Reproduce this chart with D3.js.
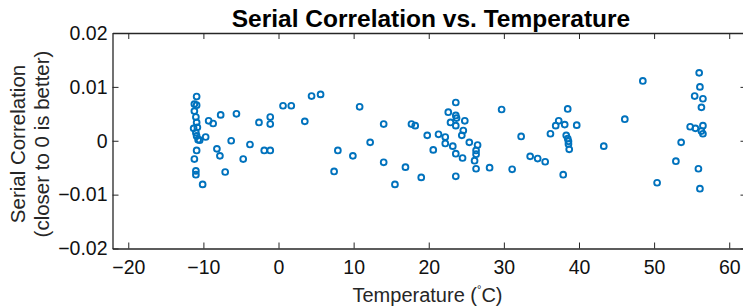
<!DOCTYPE html>
<html>
<head>
<meta charset="utf-8">
<script src="https://cdn.jsdelivr.net/npm/d3@7"></script>
<style>
  body { margin: 0; background: #fff; }
  text { font-family: "Liberation Sans", Arial, Helvetica, sans-serif; }
</style>
</head>
<body>
<div id="chart"></div>
<script>
// temperature (C) of each run
var temps = [
  -10.9, -11.2, -10.9, -11.2, -11.0, -10.9, -11.3, -10.8, -11.0, -10.9, -10.7, -10.5, -9.7,
  -10.9, -11.2, -11.0, -11.0, -10.1,
  -9.3, -8.7, -7.7, -5.6, -8.2, -7.8, -6.3, -7.1, -4.7, -3.8, -2.6, -1.1, -1.1, -1.9, -1.1,
  0.6, 1.7, 3.5, 4.4, 5.6, 10.8, 7.4, 7.9, 9.9, 12.2, 14.0, 14.0, 15.5, 16.9, 17.7, 18.2,
  19.0, 19.8, 20.6, 21.3, 22.2, 22.2, 22.6, 23.6, 23.6, 23.7, 22.9, 23.6, 24.8, 24.6, 24.4,
  25.4, 23.2, 23.6, 24.5, 23.6,
  26.5, 26.3, 26.3, 26.1, 26.3, 28.1, 29.7, 31.1, 32.3, 33.5, 34.5, 35.5, 36.2, 36.9, 37.3,
  38.1, 38.5, 39.7, 38.3, 38.5, 38.6, 38.6, 38.7, 37.9, 43.3, 46.1, 48.5, 50.4, 52.9, 53.6,
  54.8, 55.5, 56.5, 56.3, 56.5, 56.0, 56.1, 55.4, 56.5, 56.3, 55.9, 56.1
];
// serial correlation of each run
var corrs = [
  0.0082, 0.0068, 0.0066, 0.0055, 0.0044, 0.0034, 0.0023, 0.0025, 0.0015, 0.0009, 0.0002, 0.0001, 0.0007,
  -0.0018, -0.0034, -0.0056, -0.0063, -0.0081,
  0.0037, 0.0032, 0.0048, 0.0050, -0.0015, -0.0028, 0.0000, -0.0058, -0.0034, -0.0007, 0.0034, 0.0044, 0.0031, -0.0018, -0.0018,
  0.0065, 0.0065, 0.0036, 0.0083, 0.0086, 0.0063, -0.0057, -0.0018, -0.0028, -0.0003, 0.0031, -0.0040, -0.0081, -0.0049, 0.0031, 0.0028,
  -0.0068, 0.0010, -0.0017, 0.0012, 0.0007, -0.0005, 0.0053, 0.0071, 0.0047, 0.0042, 0.0034, 0.0028, 0.0037, 0.0019, 0.0010,
  -0.0003, -0.0010, -0.0024, -0.0032, -0.0066,
  -0.0008, -0.0018, -0.0025, -0.0037, -0.0052, -0.0050, 0.0058, -0.0053, 0.0008, -0.0029, -0.0033, -0.0039, 0.0013, 0.0028, 0.0037,
  0.0030, 0.0059, 0.0029, 0.0010, 0.0004, -0.0001, -0.0006, -0.0016, -0.0063, -0.0010, 0.0040, 0.0111, -0.0078, -0.0038, -0.0003,
  0.0026, 0.0023, 0.0028, 0.0018, 0.0013, 0.0126, 0.0100, 0.0083, 0.0078, 0.0062, -0.0052, -0.0089
];
var xTicks = [-20, -10, 0, 10, 20, 30, 40, 50, 60];
var yTicks = [-0.02, -0.01, 0, 0.01, 0.02];
var yTickLabels = ["\u22120.02", "\u22120.01", "0", "0.01", "0.02"];

var W = 743, H = 306;
var pL = 112.5, pR = 746.5, pT = 33, pB = 248.5;
var ink = "#262626", blue = "#0072BD";

var svg = d3.select("#chart").append("svg")
  .attr("width", W).attr("height", H);

var x = d3.scaleLinear().domain([-22.1, 62.3]).range([pL, pR]);
var y = d3.scaleLinear().domain([-0.02, 0.02]).range([pB, pT]);

function fmtX(d) { return d < 0 ? "\u2212" + (-d) : String(d); }

// axes, ticks pointing inward like matlab
var xb = svg.append("g").attr("transform", "translate(0," + pB + ")")
  .call(d3.axisBottom(x).tickValues(xTicks).tickSize(-6).tickPadding(12).tickSizeOuter(0).tickFormat(fmtX));
var xt = svg.append("g").attr("transform", "translate(0," + pT + ")")
  .call(d3.axisTop(x).tickValues(xTicks).tickSize(-6).tickSizeOuter(0).tickFormat(""));
var yl = svg.append("g").attr("transform", "translate(" + pL + ",0)")
  .call(d3.axisLeft(y).tickValues(yTicks).tickSize(-6).tickPadding(5).tickSizeOuter(0)
    .tickFormat(function(d, i) { return yTickLabels[i]; }));
var yr = svg.append("g").attr("transform", "translate(" + pR + ",0)")
  .call(d3.axisRight(y).tickValues(yTicks).tickSize(-6).tickSizeOuter(0).tickFormat(""));

[xb, xt, yl, yr].forEach(function(g) {
  g.select(".domain").attr("stroke", ink).attr("stroke-width", 1.3);
  g.selectAll(".tick line").attr("stroke", ink).attr("stroke-width", 1);
  g.selectAll(".tick text").attr("fill", "#111").style("font-size", "19.5px")
    .style("font-family", "'Liberation Sans', Arial, sans-serif");
});
xb.selectAll(".tick text").attr("dy", "0.71em");

// points
svg.append("g").selectAll("circle")
  .data(temps.map(function(t, i) { return [t, corrs[i]]; }))
  .join("circle")
    .attr("cx", function(d) { return x(d[0]); })
    .attr("cy", function(d) { return y(d[1]); })
    .attr("r", 2.9)
    .attr("fill", "none")
    .attr("stroke", blue)
    .attr("stroke-width", 1.9);

// title
svg.append("text")
  .attr("x", 431).attr("y", 27)
  .attr("text-anchor", "middle")
  .attr("font-weight", "bold")
  .attr("font-size", 24.5)
  .attr("fill", "#000")
  .text("Serial Correlation vs. Temperature");

// x label
var xlab = svg.append("text")
  .attr("x", 427.5).attr("y", 302)
  .attr("text-anchor", "middle")
  .attr("font-size", 20)
  .attr("fill", ink);
xlab.append("tspan").text("Temperature (");
xlab.append("tspan").attr("dy", -9).attr("font-size", 11).text("\u00b0");
xlab.append("tspan").attr("dy", 9).text("C)");

// y label, two lines
var ylab = svg.append("text")
  .attr("transform", "translate(25,144) rotate(-90)")
  .attr("text-anchor", "middle")
  .attr("font-size", 20.5)
  .attr("fill", ink);
ylab.append("tspan").attr("x", 0).attr("dy", 0).text("Serial Correlation");
ylab.append("tspan").attr("x", 0).attr("dy", 24).text("(closer to 0 is better)");
</script>
</body>
</html>
